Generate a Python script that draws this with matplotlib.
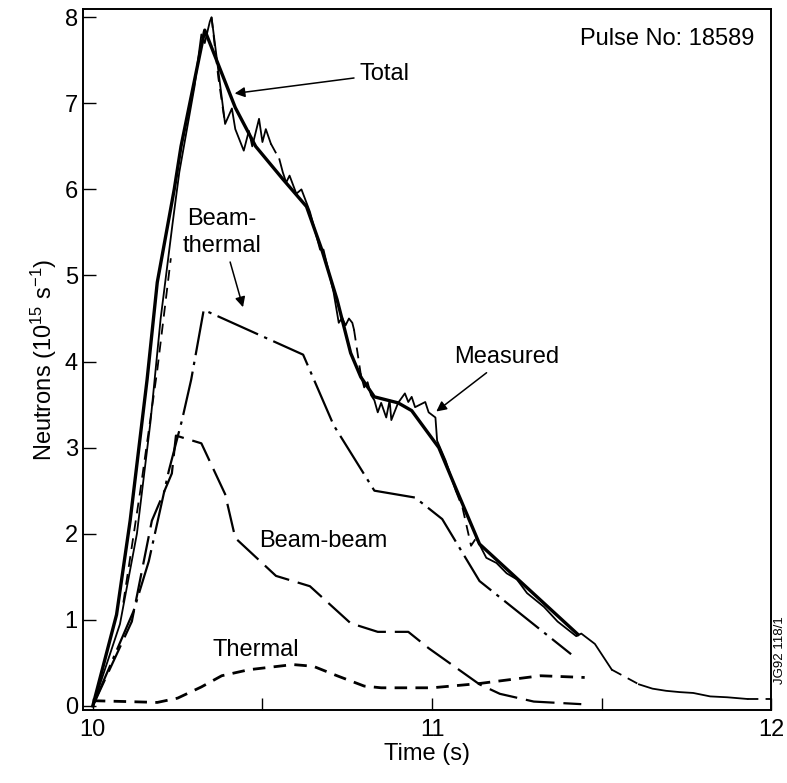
import numpy as np
import matplotlib.pyplot as plt

plt.rcParams.update({
    'font.family': ['Liberation Sans', 'DejaVu Sans'],
    'font.size': 17,
    'mathtext.fontset': 'custom',
    'mathtext.rm': 'Liberation Sans',
    'mathtext.it': 'Liberation Sans:italic',
})

# ------------------------------------------------------------
# data
# ------------------------------------------------------------
total_t = [10.0, 10.07, 10.11, 10.16, 10.19, 10.24, 10.26, 10.33, 10.37, 10.42,
           10.48, 10.56, 10.63, 10.675, 10.72, 10.76, 10.79, 10.83, 10.90, 10.94,
           11.02, 11.07, 11.14, 11.43]
total_y = [0.0, 1.06, 2.15, 3.79, 4.92, 6.0, 6.5, 7.85, 7.45, 6.95,
           6.5, 6.12, 5.8, 5.3, 4.72, 4.1, 3.82, 3.59, 3.52, 3.43,
           3.0, 2.53, 1.88, 0.83]

# measured trace (solid parts), nan = gap
meas_t = [10.0, 10.08, 10.13, 10.17, 10.20, 10.235, 10.255, 10.30, 10.32, 10.33,
          10.345, 10.35, 10.39, 10.41, 10.42, 10.445, 10.46, 10.47, 10.49, 10.50,
          10.51, 10.525, np.nan,
          10.55, 10.56, 10.57, 10.58, 10.60, 10.615, 10.64, 10.67, 10.68, 10.71,
          10.725, 10.735, 10.745, 10.755, 10.765, 10.77, np.nan,
          10.79, 10.80, 10.81, 10.82, 10.83, 10.84, 10.85, 10.865, 10.875, 10.88,
          10.90, 10.92, 10.93, 10.94, 10.95, 10.98, 10.99, 11.01, 11.015, 11.04,
          11.07, np.nan,
          11.13, 11.16, 11.19, 11.22, 11.25, 11.28, 11.33, 11.37, 11.425, 11.44,
          11.48, 11.50, 11.53, np.nan,
          11.61, 11.65, 11.69, 11.73, 11.77, 11.82, 11.87, 11.93]
meas_y = [0.0, 0.95, 2.0, 3.3, 4.5, 5.6, 6.2, 7.2, 7.8, 7.7,
          7.95, 8.0, 6.76, 6.94, 6.7, 6.45, 6.68, 6.5, 6.82, 6.55,
          6.7, 6.53, np.nan,
          6.35, 6.2, 6.08, 6.16, 5.95, 6.0, 5.74, 5.3, 5.3, 4.8,
          4.45, 4.51, 4.42, 4.5, 4.45, 4.37, np.nan,
          3.85, 3.70, 3.76, 3.61, 3.55, 3.41, 3.52, 3.35, 3.55, 3.32,
          3.52, 3.63, 3.53, 3.59, 3.47, 3.53, 3.41, 3.35, 3.08, 2.85,
          2.5, np.nan,
          1.95, 1.72, 1.66, 1.54, 1.47, 1.31, 1.15, 0.98, 0.81, 0.84,
          0.72, 0.6, 0.42, np.nan,
          0.25, 0.2, 0.175, 0.16, 0.15, 0.11, 0.1, 0.08]

# measured trace (interpolated / dashed parts)
meas_gap_t = [10.09, 10.14, 10.19, 10.23, np.nan, 10.35, 10.37, 10.39, np.nan,
              10.525, 10.55, np.nan, 10.77, 10.79, np.nan,
              11.07, 11.09, 11.115, 11.13, np.nan, 11.53, 11.61, np.nan,
              11.93, 12.0]
meas_gap_y = [1.2, 2.5, 3.9, 5.2, np.nan, 8.0, 7.3, 6.76, np.nan,
              6.53, 6.35, np.nan, 4.37, 3.85, np.nan,
              2.5, 2.3, 1.86, 1.95, np.nan, 0.42, 0.25, np.nan,
              0.08, 0.08]

bt_t = [10.0, 10.12, 10.165, 10.224, 10.263, 10.29, 10.327, 10.62, 10.71, 10.83,
        10.95, 11.03, 11.14, 11.41]
bt_y = [0.0, 1.1, 1.68, 2.73, 3.32, 3.79, 4.6, 4.08, 3.26, 2.5,
        2.42, 2.17, 1.45, 0.6]

bb_t = [10.0, 10.115, 10.174, 10.233, 10.245, 10.32, 10.39, 10.42, 10.54, 10.64,
        10.76, 10.84, 10.93, 10.99, 11.14, 11.2, 11.30, 11.44]
bb_y = [0.0, 0.98, 2.15, 2.7, 3.14, 3.05, 2.46, 1.95, 1.51, 1.39,
        0.96, 0.86, 0.86, 0.67, 0.25, 0.14, 0.05, 0.02]

th_t = [10.0, 10.1, 10.19, 10.25, 10.32, 10.38, 10.46, 10.59, 10.65, 10.72,
        10.8, 10.85, 11.0, 11.14, 11.32, 11.45]
th_y = [0.06, 0.05, 0.04, 0.09, 0.22, 0.35, 0.42, 0.48, 0.46, 0.35,
        0.23, 0.21, 0.21, 0.26, 0.35, 0.33]


fig = plt.figure(figsize=(7.87, 7.83), dpi=100)
ax = fig.add_axes([0.105, 0.093, 0.875, 0.896])

ax.plot(total_t, total_y, color='black', lw=2.4, solid_joinstyle='round')
ax.plot(meas_t, meas_y, color='black', lw=1.3)
ax.plot(meas_gap_t, meas_gap_y, color='black', lw=1.3, linestyle=(0, (6, 4)))
ax.plot(bt_t, bt_y, color='black', lw=1.6, linestyle=(0, (20, 3, 1.5, 3)))
ax.plot(bb_t, bb_y, color='black', lw=1.6, linestyle=(0, (13, 4)))
ax.plot(th_t, th_y, color='black', lw=2.0, linestyle=(0, (4.5, 3)))

# labels and arrows
arrow = dict(arrowstyle='-|>', color='black', lw=1.1, mutation_scale=15)
ax.annotate('Total', xy=(10.41, 7.11), xytext=(10.86, 7.34),
            ha='center', va='center', arrowprops=arrow)
ax.annotate('Measured', xy=(11.006, 3.40), xytext=(11.22, 4.05),
            ha='center', va='center', arrowprops=arrow)
ax.annotate('Beam-\nthermal', xy=(10.445, 4.6), xytext=(10.38, 5.5),
            ha='center', va='center', linespacing=1.25, arrowprops=arrow)
ax.text(10.68, 1.92, 'Beam-beam', ha='center', va='center')
ax.text(10.48, 0.65, 'Thermal', ha='center', va='center')
ax.text(11.95, 7.75, 'Pulse No: 18589', ha='right', va='center', fontsize=17)
ax.text(1.012, 0.085, 'JG92 118/1', transform=ax.transAxes, rotation=90,
        fontsize=9.5, ha='center', va='center')

ax.set_xlim(9.97, 12.0)
ax.set_ylim(-0.05, 8.1)
ax.set_xticks([10, 11, 12])
ax.set_xticks([10.5, 11.5], minor=True)
ax.set_yticks(range(0, 9))
ax.tick_params(which='both', direction='in', length=9, width=1.0,
               labelsize=17)
ax.tick_params(axis='x', pad=6)
ax.set_xlabel('Time (s)', fontsize=17, labelpad=2)
ax.set_ylabel('Neutrons (10$^{15}$ s$^{-1}$)', fontsize=17, labelpad=4)
for s in ax.spines.values():
    s.set_linewidth(1.4)

fig.savefig('out.png', dpi=100, facecolor='white')
